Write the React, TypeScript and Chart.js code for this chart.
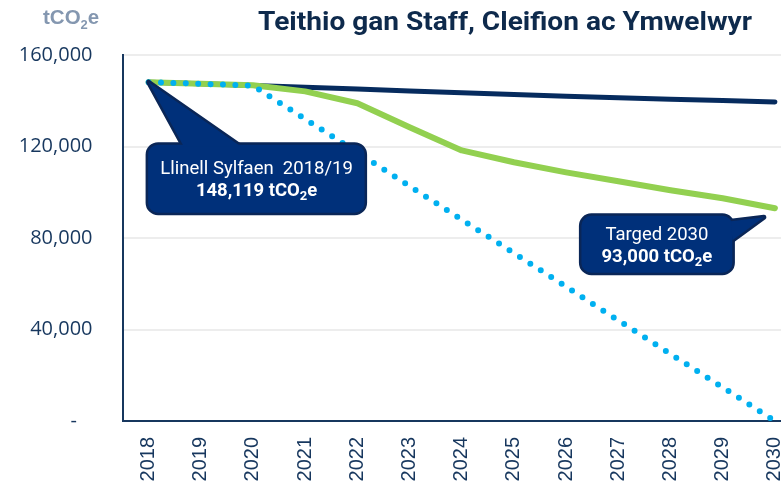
import React, { useEffect, useRef } from "react";
import { Chart, registerables } from "chart.js";

Chart.register(...registerables);

const years = ["2018", "2019", "2020", "2021", "2022", "2023", "2024", "2025", "2026", "2027", "2028", "2029", "2030"];
const businessAsUsual = [148119, 147400, 146700, 145900, 145100, 144300, 143500, 142700, 142000, 141300, 140700, 140100, 139500];
const targetTrajectory = [148119, 147400, 146800, 144100, 138900, 128400, 118300, 113100, 108700, 104800, 100900, 97400, 93000];
const netZeroTrajectory = [148119, 147400, 146600, 132000, 117400, 102700, 88000, 73400, 58700, 44000, 29300, 14700, 0];

const yTickValues = [0, 40000, 80000, 120000, 160000];
const yTickLabels = ["-", "40,000", "80,000", "120,000", "160,000"];

const titleText = "Teithio gan Staff, Cleifion ac Ymwelwyr";
const unitParts = [{ t: "tCO" }, { t: "2", sub: true }, { t: "e" }];
const baselineLine1 = "Llinell Sylfaen  2018/19";
const baselineLine2 = [{ t: "148,119 tCO" }, { t: "2", sub: true }, { t: "e" }];
const targetLine1 = "Targed 2030";
const targetLine2 = [{ t: "93,000 tCO" }, { t: "2", sub: true }, { t: "e" }];

const NAVY_TEXT = "#17375E";
const CALLOUT_FILL = "#00307A";
const CALLOUT_BORDER = "#0A2657";

type Part = { t: string; sub?: boolean };

function drawRich(
  ctx: CanvasRenderingContext2D,
  parts: Part[],
  x: number,
  y: number,
  font: string,
  subFont: string,
  align: "center" | "left",
  subDrop: number
) {
  ctx.textAlign = "left";
  ctx.textBaseline = "alphabetic";
  const widths = parts.map((p) => {
    ctx.font = p.sub ? subFont : font;
    return ctx.measureText(p.t).width;
  });
  const total = widths.reduce((a, b) => a + b, 0);
  let cx = align === "center" ? x - total / 2 : x;
  parts.forEach((p, i) => {
    ctx.font = p.sub ? subFont : font;
    ctx.fillText(p.t, cx, y + (p.sub ? subDrop : 0));
    cx += widths[i];
  });
}

function roundRectPath(ctx: CanvasRenderingContext2D, x: number, y: number, w: number, h: number, r: number) {
  ctx.beginPath();
  ctx.moveTo(x + r, y);
  ctx.lineTo(x + w - r, y);
  ctx.arcTo(x + w, y, x + w, y + r, r);
  ctx.lineTo(x + w, y + h - r);
  ctx.arcTo(x + w, y + h, x + w - r, y + h, r);
  ctx.lineTo(x + r, y + h);
  ctx.arcTo(x, y + h, x, y + h - r, r);
  ctx.lineTo(x, y + r);
  ctx.arcTo(x, y, x + r, y, r);
  ctx.closePath();
}

function triPath(ctx: CanvasRenderingContext2D, pts: number[][]) {
  ctx.beginPath();
  ctx.moveTo(pts[0][0], pts[0][1]);
  ctx.lineTo(pts[1][0], pts[1][1]);
  ctx.lineTo(pts[2][0], pts[2][1]);
  ctx.closePath();
}

function drawCallout(
  ctx: CanvasRenderingContext2D,
  box: { x: number; y: number; w: number; h: number },
  tri: number[][]
) {
  ctx.save();
  ctx.lineJoin = "round";
  ctx.lineWidth = 5;
  ctx.strokeStyle = CALLOUT_BORDER;
  roundRectPath(ctx, box.x, box.y, box.w, box.h, 10);
  ctx.stroke();
  triPath(ctx, tri);
  ctx.stroke();
  ctx.fillStyle = CALLOUT_FILL;
  roundRectPath(ctx, box.x, box.y, box.w, box.h, 10);
  ctx.fill();
  triPath(ctx, tri);
  ctx.fill();
  ctx.restore();
}

const overlayPlugin = {
  id: "overlay",
  afterDraw(chart: any) {
    const ctx: CanvasRenderingContext2D = chart.ctx;
    const xs = chart.scales.x;
    const ys = chart.scales.y;

    // Title
    ctx.save();
    ctx.font = "700 25px Roboto";
    ctx.fillStyle = "#0E2A4C";
    ctx.textAlign = "center";
    ctx.textBaseline = "alphabetic";
    const tw = ctx.measureText(titleText).width;
    const sx = 494 / tw;
    ctx.translate(505, 29.5);
    ctx.scale(sx, 1);
    ctx.fillText(titleText, 0, 0);
    ctx.restore();

    // Unit label
    ctx.save();
    ctx.fillStyle = "#8497B0";
    drawRich(ctx, unitParts, 43, 24, "700 20.5px 'Liberation Sans'", "700 13px 'Liberation Sans'", "left", 5);
    ctx.restore();

    // Callout 1 (baseline)
    const p1x = xs.getPixelForValue(0);
    const p1y = ys.getPixelForValue(businessAsUsual[0]);
    drawCallout(
      ctx,
      { x: p1x - 0.5, y: p1y + 62.5, w: 216.5, h: 68 },
      [
        [p1x, p1y],
        [p1x + 35, p1y + 64],
        [p1x + 92, p1y + 64],
      ]
    );
    ctx.save();
    ctx.fillStyle = "#FFFFFF";
    ctx.textAlign = "center";
    ctx.textBaseline = "alphabetic";
    ctx.font = "400 18.5px Roboto";
    ctx.fillText(baselineLine1, p1x + 108, p1y + 91.7);
    drawRich(ctx, baselineLine2, p1x + 108, p1y + 113.7, "700 18.5px Roboto", "700 13px Roboto", "center", 4);
    ctx.restore();

    // Callout 2 (target)
    const p2x = xs.getPixelForValue(12);
    const p2y = ys.getPixelForValue(targetTrajectory[12]);
    drawCallout(
      ctx,
      { x: p2x - 193.5, y: p2y + 7.5, w: 151, h: 57 },
      [
        [p2x - 44, p2y + 13],
        [p2x - 11, p2y + 9],
        [p2x - 42.5, p2y + 32],
      ]
    );
    ctx.save();
    ctx.fillStyle = "#FFFFFF";
    ctx.textAlign = "center";
    ctx.textBaseline = "alphabetic";
    ctx.font = "400 18.5px Roboto";
    ctx.fillText(targetLine1, p2x - 118, p2y + 31.6);
    drawRich(ctx, targetLine2, p2x - 118, p2y + 54, "700 18.5px Roboto", "700 13px Roboto", "center", 4);
    ctx.restore();
  },
};

export default function App() {
  const ref = useRef<HTMLCanvasElement>(null);

  useEffect(() => {
    if (!ref.current) return;
    const chart = new Chart(ref.current, {
      type: "line",
      data: {
        labels: years,
        datasets: [
          {
            label: "Net Zero",
            data: netZeroTrajectory,
            borderColor: "#00B0F0",
            borderWidth: 6,
            borderDash: [0, 12.4],
            borderCapStyle: "round",
            pointRadius: 0,
            fill: false,
            tension: 0,
          },
          {
            label: "Targed",
            data: targetTrajectory,
            borderColor: "#92D050",
            borderWidth: 6,
            borderJoinStyle: "round",
            borderCapStyle: "round",
            pointRadius: 0,
            fill: false,
            tension: 0,
          },
          {
            label: "BAU",
            data: businessAsUsual,
            borderColor: "#062B5E",
            borderWidth: 5,
            borderCapStyle: "round",
            pointRadius: 0,
            fill: false,
            tension: 0,
          },
        ],
      },
      options: {
        animation: false,
        responsive: true,
        maintainAspectRatio: false,
        layout: { padding: { left: 0, right: 1, top: 55, bottom: 0 } },
        plugins: {
          legend: { display: false },
          title: { display: false },
          tooltip: { enabled: false },
        },
        scales: {
          x: {
            type: "category",
            offset: true,
            grid: { display: false, drawTicks: false },
            border: { display: true, color: "#17375E", width: 2 },
            ticks: {
              autoSkip: false,
              maxRotation: 90,
              minRotation: 90,
              padding: 16,
              color: NAVY_TEXT,
              font: { family: "'Liberation Sans'", size: 20 },
            },
            afterFit: (scale: any) => {
              scale.height = 65;
              scale.paddingLeft = 0;
              scale.paddingRight = 0;
            },
          },
          y: {
            min: 0,
            max: 160000,
            grid: { color: "#EDEDED", lineWidth: 2, drawTicks: false },
            border: { display: true, color: "#17375E", width: 2 },
            afterBuildTicks: (scale: any) => {
              scale.ticks = yTickValues.map((v) => ({ value: v }));
            },
            ticks: {
              padding: 30,
              color: NAVY_TEXT,
              font: { family: "'Open Sans'", size: 20 },
              callback: (value: any) => {
                const i = yTickValues.indexOf(Number(value));
                const lbl = i >= 0 ? yTickLabels[i] : "";
                return lbl === "-" ? lbl + "   " : lbl;
              },
            },
            afterFit: (scale: any) => {
              scale.width = 122.5;
              scale.paddingTop = 0;
              scale.paddingBottom = 0;
            },
          },
        },
      },
      plugins: [overlayPlugin],
    });
    return () => chart.destroy();
  }, []);

  return (
    <div
      style={{
        position: "fixed",
        left: 0,
        top: 0,
        width: 781,
        height: 486,
        overflow: "hidden",
        background: "#FFFFFF",
      }}
    >
      <div style={{ position: "relative", width: 802, height: 486 }}>
        <canvas ref={ref} />
      </div>
    </div>
  );
}
